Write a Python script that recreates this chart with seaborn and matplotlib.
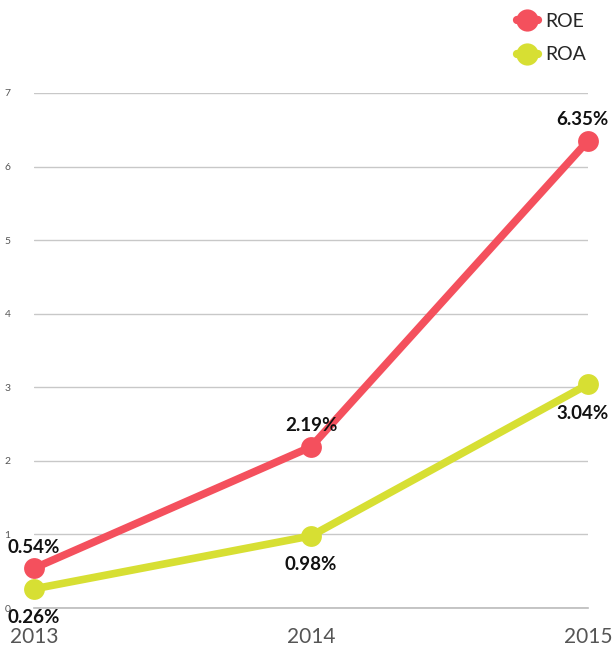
import pandas as pd
import seaborn as sns
from matplotlib import pyplot as plt

years = [2013, 2014, 2015]
roe = [0.54, 2.19, 6.35]
roa = [0.26, 0.98, 3.04]
series_names = ["ROE", "ROA"]
colors = {"ROE": "#f4505d", "ROA": "#d7df33"}

df = pd.DataFrame({
    "year": years * 2,
    "value": roe + roa,
    "series": ["ROE"] * 3 + ["ROA"] * 3,
})

sns.set_style("white")
plt.rcParams["font.family"] = ["Lato", "DejaVu Sans"]

fig = plt.figure(figsize=(6.14, 6.5), dpi=100)
ax = fig.add_axes([34 / 614, 1 - 608 / 650, (588 - 34) / 614, (608 - 93) / 650])

sns.lineplot(data=df, x="year", y="value", hue="series", hue_order=series_names,
             palette=colors, marker="o", markersize=15, markeredgewidth=0,
             linewidth=5.5, ax=ax, legend=True)
for line in ax.lines:
    line.set_clip_on(False)

ax.set_xlim(2013, 2015)
ax.set_ylim(0, 7)
ax.set_xticks(years)
ax.set_xticklabels([str(y) for y in years], fontsize=15, color="#555555")
ax.set_yticks(range(0, 8))
ax.set_yticklabels([str(v) for v in range(0, 8)], fontsize=7.5, color="#555555")
ax.set_xlabel("")
ax.set_ylabel("")

ax.yaxis.grid(True, color="#c8c8c8", linewidth=1)
ax.set_axisbelow(True)
for s in ["top", "right", "left"]:
    ax.spines[s].set_visible(False)
ax.spines["bottom"].set_color("#bbbbbb")
ax.spines["bottom"].set_linewidth(1.2)
ax.tick_params(axis="y", length=0, pad=17)
ax.tick_params(axis="x", length=4, color="#bbbbbb", pad=10)

# value labels: (dx, dy) in points from the point
offsets = {
    ("ROE", 0): (0, 9), ("ROE", 1): (0, 9), ("ROE", 2): (-4, 9),
    ("ROA", 0): (0, -27), ("ROA", 1): (0, -27), ("ROA", 2): (-4, -27),
}
for name, vals in [("ROE", roe), ("ROA", roa)]:
    for i, (x, v) in enumerate(zip(years, vals)):
        dx, dy = offsets[(name, i)]
        ax.annotate(f"{v:.2f}%", (x, v), xytext=(dx, dy), textcoords="offset points",
                    ha="center", va="bottom", fontsize=13.5, fontweight="bold", color="#111111",
                    annotation_clip=False)

handles, labels = ax.get_legend_handles_labels()
for h in handles:
    h.set_markersize(16)
    h.set_linewidth(6)
ax.legend(handles, labels, loc="upper left", bbox_to_anchor=(509 / 614, 1 - 5 / 650),
          bbox_transform=fig.transFigure, frameon=False, fontsize=14,
          handlelength=1.1, handletextpad=0.35, labelspacing=0.85, borderaxespad=0.0)

fig.savefig("out.png", dpi=100)
